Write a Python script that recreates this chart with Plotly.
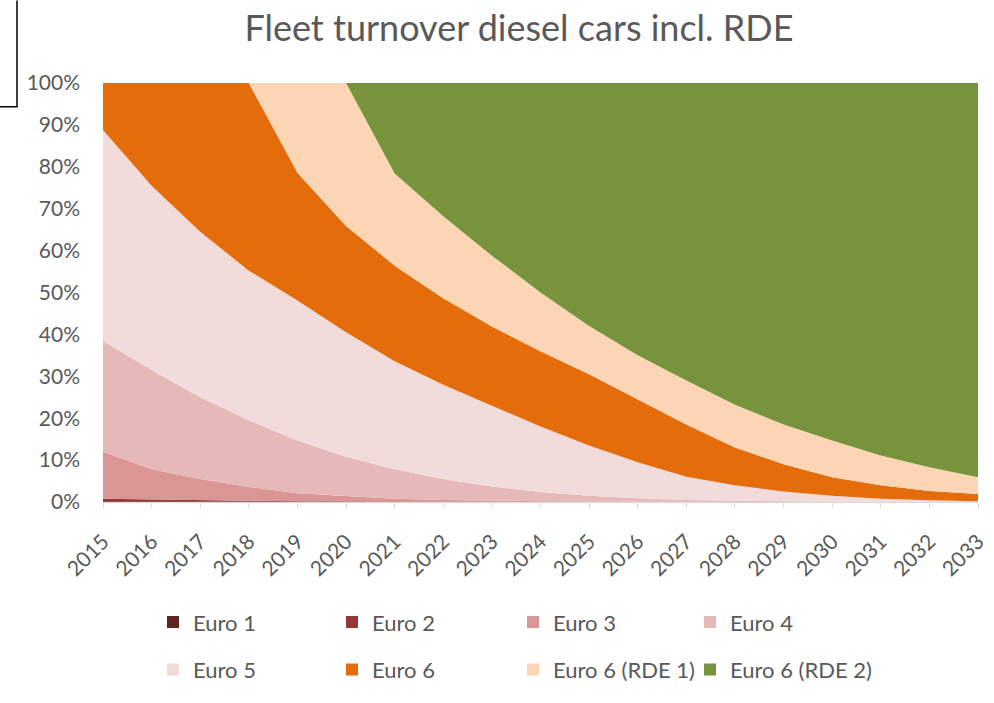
import plotly.graph_objects as go

# years on the x axis
years = [str(y) for y in range(2015, 2034)]

# fleet share per emission class (percent of diesel car fleet)
euro_1 = [0.2, 0.15, 0.1, 0.05, 0.03, 0.02, 0.01, 0, 0, 0, 0, 0, 0, 0, 0, 0, 0, 0, 0]
euro_2 = [0.6, 0.45, 0.35, 0.25, 0.17, 0.13, 0.09, 0.05, 0.03, 0.02, 0.01, 0, 0, 0, 0, 0, 0, 0, 0]
euro_3 = [11.2, 7.2, 5.05, 3.3, 1.9, 1.25, 0.7, 0.45, 0.27, 0.18, 0.09, 0.05, 0.03, 0.02, 0.01, 0, 0, 0, 0]
euro_4 = [26.5, 23.7, 19.5, 15.9, 12.6, 9.4, 7.0, 5.0, 3.4, 2.2, 1.4, 0.85, 0.47, 0.28, 0.19, 0.1, 0.05, 0.03, 0.02]
euro_5 = [50.3, 44.0, 39.5, 35.7, 33.4, 29.7, 25.8, 22.5, 19.3, 15.6, 12.0, 8.6, 5.5, 3.7, 2.3, 1.4, 0.75, 0.37, 0.18]
euro_6 = [11.2, 24.5, 35.5, 44.8, 30.5, 25.4, 22.8, 20.6, 18.9, 18.0, 17.0, 15.0, 12.5, 9.0, 6.5, 4.4, 3.2, 2.2, 1.7]
euro_6_rde1 = [0, 0, 0, 0, 21.4, 34.1, 22.0, 19.6, 16.9, 14.0, 11.5, 10.5, 10.5, 10.2, 9.5, 8.8, 7.1, 5.7, 4.0]
euro_6_rde2 = [0, 0, 0, 0, 0, 0, 21.6, 31.8, 41.2, 50.0, 58.0, 65.0, 71.0, 76.8, 81.5, 85.3, 88.9, 91.7, 94.1]

series = [
    ("Euro 1", euro_1, "#632523"),
    ("Euro 2", euro_2, "#953735"),
    ("Euro 3", euro_3, "#D99694"),
    ("Euro 4", euro_4, "#E6B9B8"),
    ("Euro 5", euro_5, "#F2DCDB"),
    ("Euro 6", euro_6, "#E46C0A"),
    ("Euro 6 (RDE 1)", euro_6_rde1, "#FCD5B5"),
    ("Euro 6 (RDE 2)", euro_6_rde2, "#77933C"),
]

GREY = "#595959"
FONT = "Lato"

# legend positions (px) - two rows of four, like the Excel legend
col_px = [153, 332, 513, 690]
row_px = [626, 674]
PLOT_L, PLOT_R, PLOT_T, PLOT_B = 103, 978, 83, 505
W, H = 994, 703

def px_to_paper_x(px):
    return (px - PLOT_L) / (PLOT_R - PLOT_L)

def px_to_paper_y(py):
    return (PLOT_B - py) / (PLOT_B - PLOT_T)

fig = go.Figure()
legends = {}
for i, (name, vals, color) in enumerate(series):
    lname = "legend" if i == 0 else f"legend{i + 1}"
    fig.add_trace(go.Scatter(
        x=years, y=vals, name=name,
        mode="lines", line=dict(width=0, color=color),
        fillcolor=color, stackgroup="fleet", groupnorm="percent",
        showlegend=False,
    ))
    # square legend swatch
    fig.add_trace(go.Scatter(
        x=[None], y=[None], name=name, mode="markers",
        marker=dict(symbol="square", size=12, color=color),
        legend=lname, showlegend=True,
    ))
    legends[lname] = dict(
        x=px_to_paper_x(col_px[i % 4]), y=px_to_paper_y(row_px[i // 4]),
        xanchor="left", yanchor="middle",
        bgcolor="rgba(0,0,0,0)", borderwidth=0,
        font=dict(family=FONT, size=22, color=GREY),
        itemwidth=30,
    )

fig.update_layout(
    width=W, height=H,
    margin=dict(l=PLOT_L, r=W - PLOT_R, t=PLOT_T, b=H - PLOT_B),
    paper_bgcolor="white", plot_bgcolor="white",
    title=dict(text="Fleet turnover diesel cars incl. RDE",
               x=519 / W, xanchor="center", y=1 - 28 / H, yanchor="middle",
               font=dict(family=FONT, size=36, color=GREY)),
    xaxis=dict(type="category", range=[0, len(years) - 1], automargin=False,
               tickangle=-45, tickfont=dict(family=FONT, size=21, color=GREY),
               ticks="outside", ticklen=5, tickcolor="#D9D9D9",
               ticklabelstandoff=13,
               showline=True, linecolor="#D9D9D9", showgrid=False),
    yaxis=dict(range=[0, 100], dtick=10, ticksuffix="%", automargin=False,
               tickfont=dict(family=FONT, size=21, color=GREY),
               ticklabelstandoff=22,
               showgrid=False, showline=False, zeroline=False),
    **legends,
)

# leftover frame corner in the top-left of the original image
fig.add_shape(type="path", xref="paper", yref="paper",
              path=(f"M {px_to_paper_x(17)} {px_to_paper_y(0)} "
                    f"L {px_to_paper_x(17)} {px_to_paper_y(107)} "
                    f"L {px_to_paper_x(0)} {px_to_paper_y(107)}"),
              line=dict(color="black", width=1.5))

# drop the browser's default 8px body margin so the figure sits at (0, 0)
fig.write_html("out.html", config={"displayModeBar": False},
               post_script="document.body.style.margin='0';")
